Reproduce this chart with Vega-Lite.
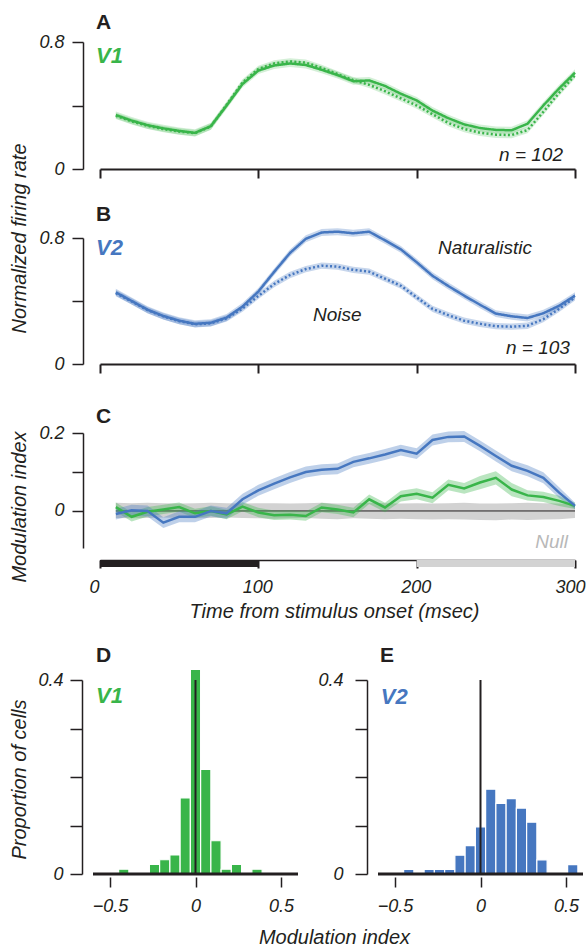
{
"$schema": "https://vega.github.io/schema/vega-lite/v6.json",
"autosize": "none",
"padding": {"left": 100, "top": 42, "right": 488, "bottom": 904},
"spacing": 24,
"config": {
 "font": "Liberation Sans",
 "view": {"stroke": null},
 "axis": {"grid": false, "labelFont": "Liberation Sans", "labelFontStyle": "italic", "labelFontSize": 18, "labelColor": "#231f20", "titleFont": "Liberation Sans", "titleFontStyle": "italic", "titleFontWeight": "normal", "titleFontSize": 20, "titleColor": "#231f20", "domainColor": "#231f20", "tickColor": "#231f20"},
 "text": {"font": "Liberation Sans"}
},
"datasets": {
 "rateV1": [
  {"t":10,"cond":"Naturalistic","m":0.340,"lo":0.318,"hi":0.362},
  {"t":20,"cond":"Naturalistic","m":0.305,"lo":0.283,"hi":0.327},
  {"t":30,"cond":"Naturalistic","m":0.276,"lo":0.254,"hi":0.298},
  {"t":40,"cond":"Naturalistic","m":0.256,"lo":0.234,"hi":0.278},
  {"t":50,"cond":"Naturalistic","m":0.240,"lo":0.218,"hi":0.262},
  {"t":60,"cond":"Naturalistic","m":0.228,"lo":0.206,"hi":0.250},
  {"t":70,"cond":"Naturalistic","m":0.270,"lo":0.248,"hi":0.292},
  {"t":80,"cond":"Naturalistic","m":0.400,"lo":0.378,"hi":0.422},
  {"t":90,"cond":"Naturalistic","m":0.535,"lo":0.513,"hi":0.557},
  {"t":100,"cond":"Naturalistic","m":0.620,"lo":0.598,"hi":0.642},
  {"t":110,"cond":"Naturalistic","m":0.652,"lo":0.630,"hi":0.674},
  {"t":120,"cond":"Naturalistic","m":0.665,"lo":0.643,"hi":0.687},
  {"t":130,"cond":"Naturalistic","m":0.655,"lo":0.633,"hi":0.677},
  {"t":140,"cond":"Naturalistic","m":0.625,"lo":0.603,"hi":0.647},
  {"t":150,"cond":"Naturalistic","m":0.592,"lo":0.570,"hi":0.614},
  {"t":160,"cond":"Naturalistic","m":0.553,"lo":0.531,"hi":0.575},
  {"t":170,"cond":"Naturalistic","m":0.558,"lo":0.536,"hi":0.580},
  {"t":180,"cond":"Naturalistic","m":0.523,"lo":0.501,"hi":0.545},
  {"t":190,"cond":"Naturalistic","m":0.474,"lo":0.452,"hi":0.496},
  {"t":200,"cond":"Naturalistic","m":0.432,"lo":0.410,"hi":0.454},
  {"t":210,"cond":"Naturalistic","m":0.368,"lo":0.346,"hi":0.390},
  {"t":220,"cond":"Naturalistic","m":0.320,"lo":0.298,"hi":0.342},
  {"t":230,"cond":"Naturalistic","m":0.281,"lo":0.259,"hi":0.303},
  {"t":240,"cond":"Naturalistic","m":0.258,"lo":0.236,"hi":0.280},
  {"t":250,"cond":"Naturalistic","m":0.246,"lo":0.224,"hi":0.268},
  {"t":260,"cond":"Naturalistic","m":0.244,"lo":0.222,"hi":0.266},
  {"t":270,"cond":"Naturalistic","m":0.285,"lo":0.263,"hi":0.307},
  {"t":280,"cond":"Naturalistic","m":0.400,"lo":0.378,"hi":0.422},
  {"t":290,"cond":"Naturalistic","m":0.508,"lo":0.486,"hi":0.530},
  {"t":300,"cond":"Naturalistic","m":0.607,"lo":0.585,"hi":0.629},
  {"t":10,"cond":"Noise","m":0.335,"lo":0.315,"hi":0.355},
  {"t":20,"cond":"Noise","m":0.300,"lo":0.280,"hi":0.320},
  {"t":30,"cond":"Noise","m":0.272,"lo":0.252,"hi":0.292},
  {"t":40,"cond":"Noise","m":0.251,"lo":0.231,"hi":0.271},
  {"t":50,"cond":"Noise","m":0.236,"lo":0.216,"hi":0.256},
  {"t":60,"cond":"Noise","m":0.225,"lo":0.205,"hi":0.245},
  {"t":70,"cond":"Noise","m":0.268,"lo":0.248,"hi":0.288},
  {"t":80,"cond":"Noise","m":0.405,"lo":0.385,"hi":0.425},
  {"t":90,"cond":"Noise","m":0.545,"lo":0.525,"hi":0.565},
  {"t":100,"cond":"Noise","m":0.630,"lo":0.610,"hi":0.650},
  {"t":110,"cond":"Noise","m":0.665,"lo":0.645,"hi":0.685},
  {"t":120,"cond":"Noise","m":0.678,"lo":0.658,"hi":0.698},
  {"t":130,"cond":"Noise","m":0.670,"lo":0.650,"hi":0.690},
  {"t":140,"cond":"Noise","m":0.637,"lo":0.617,"hi":0.657},
  {"t":150,"cond":"Noise","m":0.598,"lo":0.578,"hi":0.618},
  {"t":160,"cond":"Noise","m":0.560,"lo":0.540,"hi":0.580},
  {"t":170,"cond":"Noise","m":0.530,"lo":0.510,"hi":0.550},
  {"t":180,"cond":"Noise","m":0.490,"lo":0.470,"hi":0.510},
  {"t":190,"cond":"Noise","m":0.445,"lo":0.425,"hi":0.465},
  {"t":200,"cond":"Noise","m":0.400,"lo":0.380,"hi":0.420},
  {"t":210,"cond":"Noise","m":0.345,"lo":0.325,"hi":0.365},
  {"t":220,"cond":"Noise","m":0.290,"lo":0.270,"hi":0.310},
  {"t":230,"cond":"Noise","m":0.252,"lo":0.232,"hi":0.272},
  {"t":240,"cond":"Noise","m":0.228,"lo":0.208,"hi":0.248},
  {"t":250,"cond":"Noise","m":0.216,"lo":0.196,"hi":0.236},
  {"t":260,"cond":"Noise","m":0.214,"lo":0.194,"hi":0.234},
  {"t":270,"cond":"Noise","m":0.245,"lo":0.225,"hi":0.265},
  {"t":280,"cond":"Noise","m":0.360,"lo":0.340,"hi":0.380},
  {"t":290,"cond":"Noise","m":0.480,"lo":0.460,"hi":0.500},
  {"t":300,"cond":"Noise","m":0.590,"lo":0.570,"hi":0.610}
 ],
 "rateV2": [
  {"t":10,"cond":"Naturalistic","m":0.455,"lo":0.433,"hi":0.477},
  {"t":20,"cond":"Naturalistic","m":0.400,"lo":0.378,"hi":0.422},
  {"t":30,"cond":"Naturalistic","m":0.345,"lo":0.323,"hi":0.367},
  {"t":40,"cond":"Naturalistic","m":0.305,"lo":0.283,"hi":0.327},
  {"t":50,"cond":"Naturalistic","m":0.275,"lo":0.253,"hi":0.297},
  {"t":60,"cond":"Naturalistic","m":0.255,"lo":0.233,"hi":0.277},
  {"t":70,"cond":"Naturalistic","m":0.262,"lo":0.240,"hi":0.284},
  {"t":80,"cond":"Naturalistic","m":0.295,"lo":0.273,"hi":0.317},
  {"t":90,"cond":"Naturalistic","m":0.365,"lo":0.343,"hi":0.387},
  {"t":100,"cond":"Naturalistic","m":0.460,"lo":0.438,"hi":0.482},
  {"t":110,"cond":"Naturalistic","m":0.585,"lo":0.563,"hi":0.607},
  {"t":120,"cond":"Naturalistic","m":0.705,"lo":0.683,"hi":0.727},
  {"t":130,"cond":"Naturalistic","m":0.795,"lo":0.773,"hi":0.817},
  {"t":140,"cond":"Naturalistic","m":0.835,"lo":0.813,"hi":0.857},
  {"t":150,"cond":"Naturalistic","m":0.840,"lo":0.818,"hi":0.862},
  {"t":160,"cond":"Naturalistic","m":0.830,"lo":0.808,"hi":0.852},
  {"t":170,"cond":"Naturalistic","m":0.840,"lo":0.818,"hi":0.862},
  {"t":180,"cond":"Naturalistic","m":0.785,"lo":0.763,"hi":0.807},
  {"t":190,"cond":"Naturalistic","m":0.728,"lo":0.706,"hi":0.750},
  {"t":200,"cond":"Naturalistic","m":0.646,"lo":0.624,"hi":0.668},
  {"t":210,"cond":"Naturalistic","m":0.560,"lo":0.538,"hi":0.582},
  {"t":220,"cond":"Naturalistic","m":0.495,"lo":0.473,"hi":0.517},
  {"t":230,"cond":"Naturalistic","m":0.434,"lo":0.412,"hi":0.456},
  {"t":240,"cond":"Naturalistic","m":0.376,"lo":0.354,"hi":0.398},
  {"t":250,"cond":"Naturalistic","m":0.320,"lo":0.298,"hi":0.342},
  {"t":260,"cond":"Naturalistic","m":0.303,"lo":0.281,"hi":0.325},
  {"t":270,"cond":"Naturalistic","m":0.292,"lo":0.270,"hi":0.314},
  {"t":280,"cond":"Naturalistic","m":0.322,"lo":0.300,"hi":0.344},
  {"t":290,"cond":"Naturalistic","m":0.370,"lo":0.348,"hi":0.392},
  {"t":300,"cond":"Naturalistic","m":0.434,"lo":0.412,"hi":0.456},
  {"t":10,"cond":"Noise","m":0.450,"lo":0.430,"hi":0.470},
  {"t":20,"cond":"Noise","m":0.397,"lo":0.377,"hi":0.417},
  {"t":30,"cond":"Noise","m":0.342,"lo":0.322,"hi":0.362},
  {"t":40,"cond":"Noise","m":0.302,"lo":0.282,"hi":0.322},
  {"t":50,"cond":"Noise","m":0.272,"lo":0.252,"hi":0.292},
  {"t":60,"cond":"Noise","m":0.252,"lo":0.232,"hi":0.272},
  {"t":70,"cond":"Noise","m":0.258,"lo":0.238,"hi":0.278},
  {"t":80,"cond":"Noise","m":0.290,"lo":0.270,"hi":0.310},
  {"t":90,"cond":"Noise","m":0.352,"lo":0.332,"hi":0.372},
  {"t":100,"cond":"Noise","m":0.432,"lo":0.412,"hi":0.452},
  {"t":110,"cond":"Noise","m":0.508,"lo":0.488,"hi":0.528},
  {"t":120,"cond":"Noise","m":0.565,"lo":0.545,"hi":0.585},
  {"t":130,"cond":"Noise","m":0.603,"lo":0.583,"hi":0.623},
  {"t":140,"cond":"Noise","m":0.624,"lo":0.604,"hi":0.644},
  {"t":150,"cond":"Noise","m":0.618,"lo":0.598,"hi":0.638},
  {"t":160,"cond":"Noise","m":0.598,"lo":0.578,"hi":0.618},
  {"t":170,"cond":"Noise","m":0.586,"lo":0.566,"hi":0.606},
  {"t":180,"cond":"Noise","m":0.542,"lo":0.522,"hi":0.562},
  {"t":190,"cond":"Noise","m":0.497,"lo":0.477,"hi":0.517},
  {"t":200,"cond":"Noise","m":0.423,"lo":0.403,"hi":0.443},
  {"t":210,"cond":"Noise","m":0.350,"lo":0.330,"hi":0.370},
  {"t":220,"cond":"Noise","m":0.310,"lo":0.290,"hi":0.330},
  {"t":230,"cond":"Noise","m":0.275,"lo":0.255,"hi":0.295},
  {"t":240,"cond":"Noise","m":0.255,"lo":0.235,"hi":0.275},
  {"t":250,"cond":"Noise","m":0.240,"lo":0.220,"hi":0.260},
  {"t":260,"cond":"Noise","m":0.237,"lo":0.217,"hi":0.257},
  {"t":270,"cond":"Noise","m":0.243,"lo":0.223,"hi":0.263},
  {"t":280,"cond":"Noise","m":0.285,"lo":0.265,"hi":0.305},
  {"t":290,"cond":"Noise","m":0.350,"lo":0.330,"hi":0.370},
  {"t":300,"cond":"Noise","m":0.423,"lo":0.403,"hi":0.443}
 ],
 "modC": [
  {"t":10,"area":"V1","m":0.010,"lo":-0.002,"hi":0.022},
  {"t":20,"area":"V1","m":-0.015,"lo":-0.027,"hi":-0.003},
  {"t":30,"area":"V1","m":-0.002,"lo":-0.014,"hi":0.010},
  {"t":40,"area":"V1","m":0.004,"lo":-0.008,"hi":0.016},
  {"t":50,"area":"V1","m":0.010,"lo":-0.002,"hi":0.022},
  {"t":60,"area":"V1","m":-0.006,"lo":-0.018,"hi":0.006},
  {"t":70,"area":"V1","m":0.000,"lo":-0.012,"hi":0.012},
  {"t":80,"area":"V1","m":-0.009,"lo":-0.021,"hi":0.003},
  {"t":90,"area":"V1","m":0.011,"lo":-0.001,"hi":0.023},
  {"t":100,"area":"V1","m":-0.004,"lo":-0.016,"hi":0.008},
  {"t":110,"area":"V1","m":-0.011,"lo":-0.023,"hi":0.001},
  {"t":120,"area":"V1","m":-0.010,"lo":-0.022,"hi":0.002},
  {"t":130,"area":"V1","m":-0.013,"lo":-0.025,"hi":-0.001},
  {"t":140,"area":"V1","m":0.009,"lo":-0.003,"hi":0.021},
  {"t":150,"area":"V1","m":0.004,"lo":-0.008,"hi":0.016},
  {"t":160,"area":"V1","m":-0.004,"lo":-0.016,"hi":0.008},
  {"t":170,"area":"V1","m":0.030,"lo":0.018,"hi":0.042},
  {"t":180,"area":"V1","m":0.009,"lo":-0.003,"hi":0.021},
  {"t":190,"area":"V1","m":0.038,"lo":0.024,"hi":0.052},
  {"t":200,"area":"V1","m":0.044,"lo":0.030,"hi":0.058},
  {"t":210,"area":"V1","m":0.034,"lo":0.020,"hi":0.048},
  {"t":220,"area":"V1","m":0.067,"lo":0.053,"hi":0.081},
  {"t":230,"area":"V1","m":0.058,"lo":0.044,"hi":0.072},
  {"t":240,"area":"V1","m":0.073,"lo":0.056,"hi":0.090},
  {"t":250,"area":"V1","m":0.085,"lo":0.068,"hi":0.102},
  {"t":260,"area":"V1","m":0.055,"lo":0.038,"hi":0.072},
  {"t":270,"area":"V1","m":0.040,"lo":0.027,"hi":0.053},
  {"t":280,"area":"V1","m":0.036,"lo":0.023,"hi":0.049},
  {"t":290,"area":"V1","m":0.026,"lo":0.013,"hi":0.039},
  {"t":300,"area":"V1","m":0.013,"lo":0.005,"hi":0.021},
  {"t":10,"area":"V2","m":-0.008,"lo":-0.022,"hi":0.006},
  {"t":20,"area":"V2","m":0.002,"lo":-0.012,"hi":0.016},
  {"t":30,"area":"V2","m":0.000,"lo":-0.014,"hi":0.014},
  {"t":40,"area":"V2","m":-0.030,"lo":-0.044,"hi":-0.016},
  {"t":50,"area":"V2","m":-0.015,"lo":-0.029,"hi":-0.001},
  {"t":60,"area":"V2","m":-0.015,"lo":-0.029,"hi":-0.001},
  {"t":70,"area":"V2","m":0.000,"lo":-0.014,"hi":0.014},
  {"t":80,"area":"V2","m":-0.006,"lo":-0.020,"hi":0.008},
  {"t":90,"area":"V2","m":0.030,"lo":0.016,"hi":0.044},
  {"t":100,"area":"V2","m":0.053,"lo":0.039,"hi":0.067},
  {"t":110,"area":"V2","m":0.070,"lo":0.056,"hi":0.084},
  {"t":120,"area":"V2","m":0.086,"lo":0.072,"hi":0.100},
  {"t":130,"area":"V2","m":0.100,"lo":0.086,"hi":0.114},
  {"t":140,"area":"V2","m":0.106,"lo":0.092,"hi":0.120},
  {"t":150,"area":"V2","m":0.108,"lo":0.094,"hi":0.122},
  {"t":160,"area":"V2","m":0.126,"lo":0.112,"hi":0.140},
  {"t":170,"area":"V2","m":0.135,"lo":0.121,"hi":0.149},
  {"t":180,"area":"V2","m":0.145,"lo":0.131,"hi":0.159},
  {"t":190,"area":"V2","m":0.156,"lo":0.142,"hi":0.170},
  {"t":200,"area":"V2","m":0.147,"lo":0.133,"hi":0.161},
  {"t":210,"area":"V2","m":0.182,"lo":0.168,"hi":0.196},
  {"t":220,"area":"V2","m":0.190,"lo":0.176,"hi":0.204},
  {"t":230,"area":"V2","m":0.191,"lo":0.177,"hi":0.205},
  {"t":240,"area":"V2","m":0.167,"lo":0.153,"hi":0.181},
  {"t":250,"area":"V2","m":0.141,"lo":0.127,"hi":0.155},
  {"t":260,"area":"V2","m":0.116,"lo":0.102,"hi":0.130},
  {"t":270,"area":"V2","m":0.103,"lo":0.089,"hi":0.117},
  {"t":280,"area":"V2","m":0.085,"lo":0.071,"hi":0.099},
  {"t":290,"area":"V2","m":0.047,"lo":0.033,"hi":0.061},
  {"t":300,"area":"V2","m":0.013,"lo":0.005,"hi":0.021}
 ],
 "nullC": [
  {"t":10,"lo":-0.018,"hi":0.021},{"t":20,"lo":-0.019,"hi":0.020},{"t":30,"lo":-0.018,"hi":0.021},
  {"t":40,"lo":-0.017,"hi":0.020},{"t":50,"lo":-0.018,"hi":0.019},{"t":60,"lo":-0.019,"hi":0.020},
  {"t":70,"lo":-0.018,"hi":0.021},{"t":80,"lo":-0.017,"hi":0.020},{"t":90,"lo":-0.018,"hi":0.019},
  {"t":100,"lo":-0.019,"hi":0.020},{"t":110,"lo":-0.020,"hi":0.020},{"t":120,"lo":-0.019,"hi":0.019},
  {"t":130,"lo":-0.018,"hi":0.020},{"t":140,"lo":-0.020,"hi":0.021},{"t":150,"lo":-0.021,"hi":0.019},
  {"t":160,"lo":-0.019,"hi":0.020},{"t":170,"lo":-0.020,"hi":0.021},{"t":180,"lo":-0.021,"hi":0.020},
  {"t":190,"lo":-0.020,"hi":0.019},{"t":200,"lo":-0.021,"hi":0.020},{"t":210,"lo":-0.022,"hi":0.019},
  {"t":220,"lo":-0.021,"hi":0.020},{"t":230,"lo":-0.022,"hi":0.021},{"t":240,"lo":-0.023,"hi":0.019},
  {"t":250,"lo":-0.024,"hi":0.019},{"t":260,"lo":-0.022,"hi":0.020},{"t":270,"lo":-0.023,"hi":0.021},
  {"t":280,"lo":-0.022,"hi":0.020},{"t":290,"lo":-0.021,"hi":0.019},{"t":300,"lo":-0.018,"hi":0.016}
 ],
 "epochs": [
  {"start":0,"end":100,"epoch":"early"},
  {"start":200,"end":300,"epoch":"late"}
 ],
 "histV1": [
  {"start":-0.45,"end":-0.39,"prop":0.0098},
  {"start":-0.27,"end":-0.21,"prop":0.0196},
  {"start":-0.21,"end":-0.15,"prop":0.0294},
  {"start":-0.15,"end":-0.09,"prop":0.0392},
  {"start":-0.09,"end":-0.03,"prop":0.1569},
  {"start":-0.03,"end":0.03,"prop":0.4216},
  {"start":0.03,"end":0.09,"prop":0.2157},
  {"start":0.09,"end":0.15,"prop":0.0686},
  {"start":0.15,"end":0.21,"prop":0.0098},
  {"start":0.21,"end":0.27,"prop":0.0196},
  {"start":0.33,"end":0.39,"prop":0.0098}
 ],
 "histV2": [
  {"start":-0.45,"end":-0.39,"prop":0.0097},
  {"start":-0.33,"end":-0.27,"prop":0.0097},
  {"start":-0.27,"end":-0.21,"prop":0.0097},
  {"start":-0.21,"end":-0.15,"prop":0.0097},
  {"start":-0.15,"end":-0.09,"prop":0.0388},
  {"start":-0.09,"end":-0.03,"prop":0.0583},
  {"start":-0.03,"end":0.03,"prop":0.0971},
  {"start":0.03,"end":0.09,"prop":0.1748},
  {"start":0.09,"end":0.15,"prop":0.1456},
  {"start":0.15,"end":0.21,"prop":0.1553},
  {"start":0.21,"end":0.27,"prop":0.1359},
  {"start":0.27,"end":0.33,"prop":0.1068},
  {"start":0.33,"end":0.39,"prop":0.0291},
  {"start":0.51,"end":0.57,"prop":0.0194}
 ]
},
"vconcat": [
 {
  "bounds": "flush",
  "spacing": 69,
  "vconcat": [
   {
    "width": 475, "height": 127,
    "layer": [
     {"data": {"name": "rateV1"}, "mark": {"type": "area", "color": "#39b54a", "opacity": 0.22},
      "encoding": {
       "x": {"field": "t", "type": "quantitative", "title": null, "scale": {"domain": [0, 300], "nice": false}, "axis": {"values": [0, 100, 200, 300], "labels": false, "tickSize": 9, "tickWidth": 2, "domainWidth": 2, "title": null}},
       "y": {"field": "lo", "type": "quantitative", "title": null, "scale": {"domain": [0, 0.8], "nice": false}, "axis": {"values": [0, 0.2, 0.4, 0.6, 0.8], "offset": 17, "tickSize": 11, "tickWidth": 1.5, "domainWidth": 1.5, "labelPadding": 8, "labelExpr": "datum.value == 0 ? '0' : (datum.value > 0.79 ? '0.8' : '')", "title": null}},
       "y2": {"field": "hi"}, "detail": {"field": "cond", "type": "nominal"}}},
     {"data": {"name": "rateV1"}, "mark": {"type": "line", "color": "#39b54a", "strokeWidth": 2.5},
      "encoding": {"x": {"field": "t", "type": "quantitative", "title": null}, "y": {"field": "m", "type": "quantitative", "title": null},
       "strokeDash": {"field": "cond", "type": "nominal", "scale": {"domain": ["Naturalistic", "Noise"], "range": [[1, 0], [2, 2.3]]}, "legend": null}}},
     {"data": {"values": [{}]}, "mark": {"type": "text", "text": "A", "align": "left", "baseline": "alphabetic", "fontSize": 21, "fontWeight": "bold", "color": "#231f20"},
      "encoding": {"x": {"datum": -2.53}, "y": {"datum": 0.882}}},
     {"data": {"values": [{}]}, "mark": {"type": "text", "text": "V1", "align": "left", "baseline": "alphabetic", "fontSize": 22, "fontWeight": "bold", "fontStyle": "italic", "color": "#39b54a"},
      "encoding": {"x": {"datum": -2.53}, "y": {"datum": 0.668}}},
     {"data": {"values": [{}]}, "mark": {"type": "text", "text": "n = 102", "align": "right", "baseline": "alphabetic", "fontSize": 19, "fontStyle": "italic", "color": "#231f20"},
      "encoding": {"x": {"datum": 292.4}, "y": {"datum": 0.052}}}
    ]
   },
   {
    "width": 475, "height": 126,
    "layer": [
     {"data": {"name": "rateV2"}, "mark": {"type": "area", "color": "#4677c0", "opacity": 0.3},
      "encoding": {
       "x": {"field": "t", "type": "quantitative", "title": null, "scale": {"domain": [0, 300], "nice": false}, "axis": {"values": [0, 100, 200, 300], "labels": false, "tickSize": 9, "tickWidth": 2, "domainWidth": 2, "title": null}},
       "y": {"field": "lo", "type": "quantitative", "scale": {"domain": [0, 0.8], "nice": false}, "axis": {"values": [0, 0.2, 0.4, 0.6, 0.8], "offset": 17, "tickSize": 11, "tickWidth": 1.5, "domainWidth": 1.5, "labelPadding": 8, "labelExpr": "datum.value == 0 ? '0' : (datum.value > 0.79 ? '0.8' : '')", "title": "Normalized firing rate", "titleX": -57.3, "titleY": 0, "titleBaseline": "alphabetic", "titleAlign": "center", "titleAngle": -90}},
       "y2": {"field": "hi"}, "detail": {"field": "cond", "type": "nominal"}}},
     {"data": {"name": "rateV2"}, "mark": {"type": "line", "color": "#4677c0", "strokeWidth": 2.5},
      "encoding": {"x": {"field": "t", "type": "quantitative"}, "y": {"field": "m", "type": "quantitative"},
       "strokeDash": {"field": "cond", "type": "nominal", "scale": {"domain": ["Naturalistic", "Noise"], "range": [[1, 0], [2, 2.3]]}, "legend": null}}},
     {"data": {"values": [{}]}, "mark": {"type": "text", "text": "B", "align": "left", "baseline": "alphabetic", "fontSize": 21, "fontWeight": "bold", "color": "#231f20"},
      "encoding": {"x": {"datum": -2.53}, "y": {"datum": 0.91}}},
     {"data": {"values": [{}]}, "mark": {"type": "text", "text": "V2", "align": "left", "baseline": "alphabetic", "fontSize": 22, "fontWeight": "bold", "fontStyle": "italic", "color": "#4677c0"},
      "encoding": {"x": {"datum": -2.53}, "y": {"datum": 0.694}}},
     {"data": {"values": [{}]}, "mark": {"type": "text", "text": "Naturalistic", "align": "left", "baseline": "alphabetic", "fontSize": 19, "fontStyle": "italic", "color": "#231f20"},
      "encoding": {"x": {"datum": 213.5}, "y": {"datum": 0.698}}},
     {"data": {"values": [{}]}, "mark": {"type": "text", "text": "Noise", "align": "left", "baseline": "alphabetic", "fontSize": 19, "fontStyle": "italic", "color": "#231f20"},
      "encoding": {"x": {"datum": 134.5}, "y": {"datum": 0.275}}},
     {"data": {"values": [{}]}, "mark": {"type": "text", "text": "n = 103", "align": "right", "baseline": "alphabetic", "fontSize": 19, "fontStyle": "italic", "color": "#231f20"},
      "encoding": {"x": {"datum": 296.8}, "y": {"datum": 0.0635}}}
    ]
   },
   {
    "width": 475, "height": 115,
    "layer": [
     {"data": {"name": "nullC"}, "mark": {"type": "area", "color": "#d2d2d2", "opacity": 1},
      "encoding": {
       "x": {"field": "t", "type": "quantitative", "scale": {"domain": [0, 300], "nice": false}, "axis": {"values": [0, 100, 200, 300], "offset": 12, "tickSize": 8, "tickWidth": 2, "domainWidth": 1.5, "labelBaseline": "alphabetic", "labelPadding": 24, "labelAlign": {"condition": {"test": "datum.value == 0", "value": "right"}, "value": "center"}, "labelOffset": {"condition": {"test": "datum.value == 300", "value": -5}, "value": -1}, "title": "Time from stimulus onset (msec)", "titleX": 234, "titleY": 57, "titleBaseline": "alphabetic"}},
       "y": {"field": "lo", "type": "quantitative", "scale": {"domain": [-0.095, 0.2], "nice": false, "zero": false}, "axis": {"values": [0, 0.1, 0.2], "offset": 17, "tickSize": 11, "tickWidth": 1.5, "domainWidth": 1.5, "labelPadding": 8, "labelExpr": "datum.value == 0 ? '0' : (datum.value > 0.19 ? '0.2' : '')", "title": "Modulation index", "titleX": -57.3, "titleY": 73.5, "titleBaseline": "alphabetic", "titleAlign": "center", "titleAngle": -90}},
       "y2": {"field": "hi"}}},
     {"data": {"values": [{}]}, "mark": {"type": "rule", "color": "#231f20", "strokeWidth": 1},
      "encoding": {"x": {"datum": 10}, "x2": {"datum": 300}, "y": {"datum": 0}}},
     {"data": {"name": "modC"}, "mark": {"type": "area", "opacity": 0.35},
      "encoding": {"x": {"field": "t", "type": "quantitative"}, "y": {"field": "lo", "type": "quantitative"}, "y2": {"field": "hi"},
       "color": {"field": "area", "type": "nominal", "scale": {"domain": ["V1", "V2"], "range": ["#39b54a", "#4677c0"]}, "legend": null}}},
     {"data": {"name": "modC"}, "mark": {"type": "line", "strokeWidth": 2.5},
      "encoding": {"x": {"field": "t", "type": "quantitative"}, "y": {"field": "m", "type": "quantitative"},
       "color": {"field": "area", "type": "nominal", "scale": {"domain": ["V1", "V2"], "range": ["#39b54a", "#4677c0"]}, "legend": null}}},
     {"data": {"name": "epochs"}, "mark": {"type": "rect"},
      "encoding": {"x": {"field": "start", "type": "quantitative"}, "x2": {"field": "end"}, "y": {"datum": -0.126}, "y2": {"datum": -0.144},
       "fill": {"field": "epoch", "type": "nominal", "scale": {"domain": ["early", "late"], "range": ["#231f20", "#d3d3d3"]}, "legend": null}}},
     {"data": {"values": [{}]}, "mark": {"type": "text", "text": "C", "align": "left", "baseline": "alphabetic", "fontSize": 21, "fontWeight": "bold", "color": "#231f20"},
      "encoding": {"x": {"datum": -2.53}, "y": {"datum": 0.2264}}},
     {"data": {"values": [{}]}, "mark": {"type": "text", "text": "Null", "align": "right", "baseline": "alphabetic", "fontSize": 19, "fontStyle": "italic", "color": "#b8b8b8"},
      "encoding": {"x": {"datum": 295.6}, "y": {"datum": -0.0957}}}
    ]
   }
  ]
 },
 {
  "bounds": "flush",
  "spacing": 80,
  "hconcat": [
   {
    "width": 198, "height": 194,
    "layer": [
     {"data": {"name": "histV1"}, "mark": {"type": "rect", "fill": "#39b54a", "stroke": "white", "strokeWidth": 1.2},
      "encoding": {
       "x": {"field": "start", "type": "quantitative", "title": null, "scale": {"domain": [-0.6, 0.6], "range": [-7, 198], "nice": false}, "axis": {"values": [-0.5, 0, 0.5], "format": "~g", "domain": false, "offset": 3, "tickSize": 10, "tickWidth": 1.5, "labelBaseline": "alphabetic", "labelPadding": 24, "title": "Modulation index", "titleX": 234, "titleY": 66, "titleBaseline": "alphabetic", "titleAlign": "center"}},
       "x2": {"field": "end"},
       "y": {"field": "prop", "type": "quantitative", "title": null, "scale": {"domain": [0, 0.4], "nice": false}, "axis": {"values": [0, 0.1, 0.2, 0.3, 0.4], "offset": 18, "tickSize": 12, "tickWidth": 1.5, "domainWidth": 1.5, "labelPadding": 7, "labelExpr": "datum.value == 0 ? '0' : (datum.value > 0.39 ? '0.4' : '')", "title": "Proportion of cells", "titleX": -56.3, "titleY": 99, "titleBaseline": "alphabetic", "titleAlign": "center", "titleAngle": -90}},
       "y2": {"datum": 0}}},
     {"data": {"values": [{}]}, "mark": {"type": "rule", "color": "#231f20", "strokeWidth": 3},
      "encoding": {"x": {"datum": -0.6}, "x2": {"datum": 0.6}, "y": {"datum": 0}}},
     {"data": {"values": [{}]}, "mark": {"type": "rule", "color": "#231f20", "strokeWidth": 2},
      "encoding": {"x": {"datum": 0}, "y": {"datum": 0}, "y2": {"datum": 0.4}}},
     {"data": {"values": [{}]}, "mark": {"type": "text", "text": "D", "align": "left", "baseline": "alphabetic", "fontSize": 21, "fontWeight": "bold", "color": "#231f20"},
      "encoding": {"x": {"datum": -0.582}, "y": {"datum": 0.4365}}},
     {"data": {"values": [{}]}, "mark": {"type": "text", "text": "V1", "align": "left", "baseline": "alphabetic", "fontSize": 22, "fontWeight": "bold", "fontStyle": "italic", "color": "#39b54a"},
      "encoding": {"x": {"datum": -0.582}, "y": {"datum": 0.3526}}}
    ]
   },
   {
    "width": 205, "height": 194,
    "layer": [
     {"data": {"name": "histV2"}, "mark": {"type": "rect", "fill": "#4677c0", "stroke": "white", "strokeWidth": 1.2},
      "encoding": {
       "x": {"field": "start", "type": "quantitative", "title": null, "scale": {"domain": [-0.6, 0.6], "nice": false}, "axis": {"values": [-0.5, 0, 0.5], "format": "~g", "domain": false, "offset": 3, "tickSize": 10, "tickWidth": 1.5, "labelBaseline": "alphabetic", "labelPadding": 24, "title": null}},
       "x2": {"field": "end"},
       "y": {"field": "prop", "type": "quantitative", "title": null, "scale": {"domain": [0, 0.4], "nice": false}, "axis": {"values": [0, 0.1, 0.2, 0.3, 0.4], "offset": 11, "tickSize": 12, "tickWidth": 1.5, "domainWidth": 1.5, "labelPadding": 12, "labelExpr": "datum.value == 0 ? '0' : (datum.value > 0.39 ? '0.4' : '')", "title": null}},
       "y2": {"datum": 0}}},
     {"data": {"values": [{}]}, "mark": {"type": "rule", "color": "#231f20", "strokeWidth": 3},
      "encoding": {"x": {"datum": -0.6}, "x2": {"datum": 0.6}, "y": {"datum": 0}}},
     {"data": {"values": [{}]}, "mark": {"type": "rule", "color": "#231f20", "strokeWidth": 2},
      "encoding": {"x": {"datum": 0}, "y": {"datum": 0}, "y2": {"datum": 0.4}}},
     {"data": {"values": [{}]}, "mark": {"type": "text", "text": "E", "align": "left", "baseline": "alphabetic", "fontSize": 21, "fontWeight": "bold", "color": "#231f20"},
      "encoding": {"x": {"datum": -0.588}, "y": {"datum": 0.4365}}},
     {"data": {"values": [{}]}, "mark": {"type": "text", "text": "V2", "align": "left", "baseline": "alphabetic", "fontSize": 22, "fontWeight": "bold", "fontStyle": "italic", "color": "#4677c0"},
      "encoding": {"x": {"datum": -0.584}, "y": {"datum": 0.3505}}}
    ]
   }
  ]
 }
]
}
